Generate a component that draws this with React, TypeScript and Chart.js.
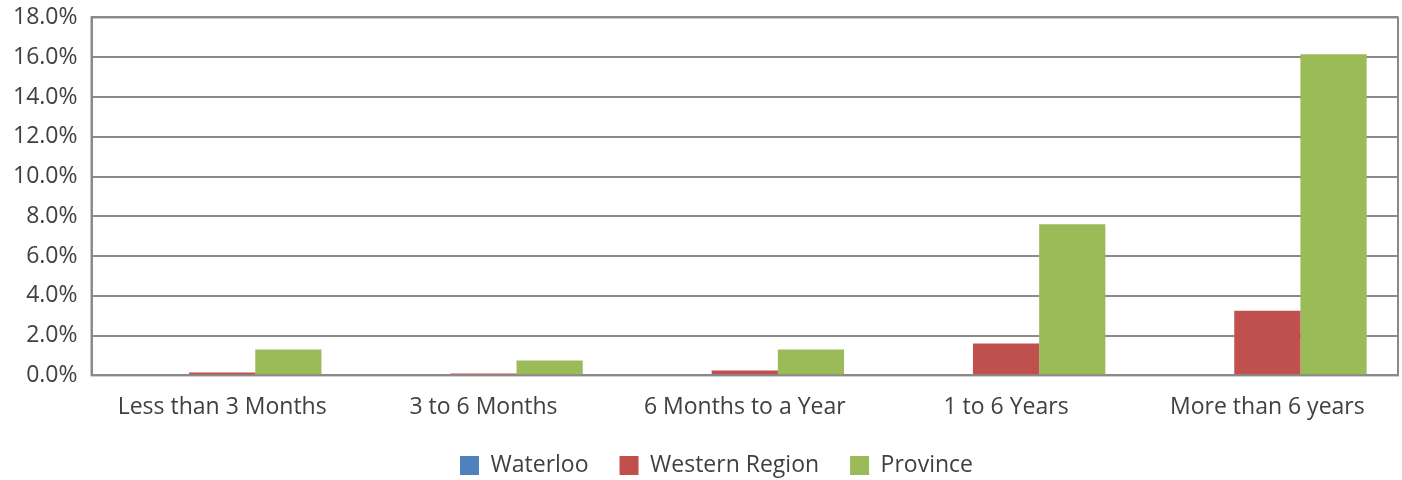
import React, { useEffect, useRef } from "react";
import { Chart, registerables } from "chart.js";

Chart.register(...registerables);

const categories = ["Less than 3 Months", "3 to 6 Months", "6 Months to a Year", "1 to 6 Years", "More than 6 years"];
const waterloo = [0, 0, 0, 0, 0];
const westernRegion = [0.15, 0.1, 0.25, 1.6, 3.25];
const province = [1.3, 0.75, 1.3, 7.6, 16.15];
const seriesNames = ["Waterloo", "Western Region", "Province"];
const seriesColors = ["#4f81bd", "#c0504d", "#9bbb59"];

const borderPlugin = {
  id: "plotBorder",
  afterLayout(chart: any) {
    if (chart.legend) {
      chart.legend.left += 18;
      chart.legend.right += 18;
    }
  },
  afterDraw(chart: any) {
    const { ctx, chartArea } = chart;
    ctx.save();
    ctx.strokeStyle = "#8a8a8a";
    ctx.lineWidth = 2;
    ctx.strokeRect(chartArea.left, chartArea.top, chartArea.right - chartArea.left, chartArea.bottom - chartArea.top);
    ctx.restore();
  },
};

export default function App() {
  const ref = useRef<HTMLCanvasElement>(null);
  useEffect(() => {
    if (!ref.current) return;
    const font = { family: "'Open Sans', 'DejaVu Sans', sans-serif", size: 23 };
    const chart = new Chart(ref.current, {
      type: "bar",
      data: {
        labels: categories,
        datasets: [waterloo, westernRegion, province].map((d, i) => ({
          label: seriesNames[i],
          data: d,
          backgroundColor: seriesColors[i],
          borderWidth: 0,
        })),
      },
      options: {
        animation: false,
        responsive: false,
        maintainAspectRatio: false,
        datasets: { bar: { categoryPercentage: 0.76, barPercentage: 1 } },
        layout: { padding: { left: -1, right: 4, top: 0, bottom: -7 } },
        plugins: {
          legend: {
            position: "bottom",
            labels: { boxWidth: 19, boxHeight: 19, padding: 31, color: "#404040", font },
          },
          tooltip: { enabled: false },
        },
        scales: {
          x: {
            grid: { display: false },
            border: { display: true, color: "#8a8a8a", width: 2 },
            ticks: { color: "#404040", font, padding: 10, maxRotation: 0 },
            afterFit: (s: any) => {
              s.height -= 8;
            },
          },
          y: {
            min: 0,
            max: 18,
            ticks: {
              stepSize: 2,
              color: "#404040",
              font: { ...font, lineHeight: 0.3 },
              padding: 14,
              callback: (v: any) => Number(v).toFixed(1) + "%",
            },
            grid: { color: "#8a8a8a", lineWidth: 2, drawTicks: false },
            border: { display: true, color: "#8a8a8a", width: 2 },
          },
        },
      },
      plugins: [borderPlugin],
    });
    return () => chart.destroy();
  }, []);
  return (
    <div style={{ position: "absolute", left: 0, top: 0, width: 1402, height: 480, background: "#fff" }}>
      <canvas ref={ref} width={1402} height={480} />
    </div>
  );
}
